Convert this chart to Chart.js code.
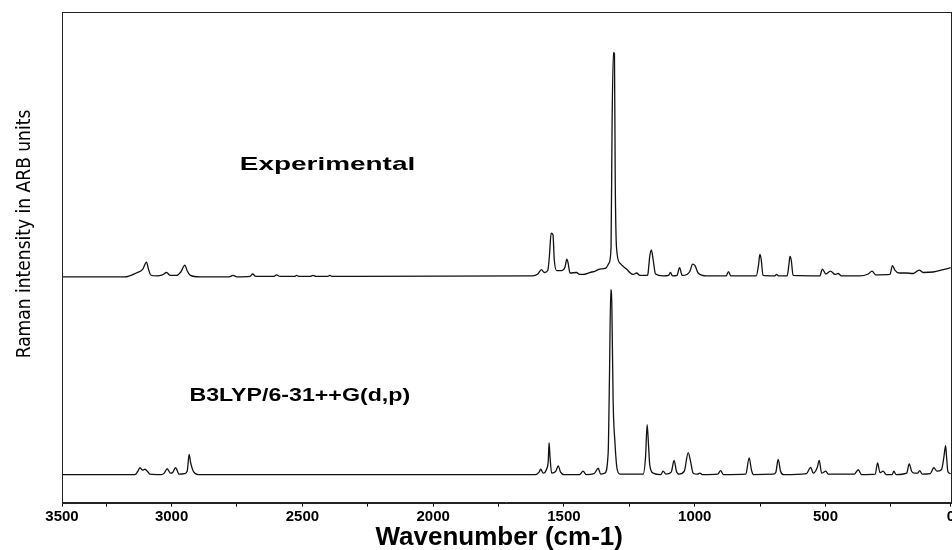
<!DOCTYPE html>
<html>
<head>
<meta charset="utf-8">
<script src="https://cdn.jsdelivr.net/npm/chart.js@4.4.0/dist/chart.umd.min.js"></script>
<style>
  html, body { margin: 0; padding: 0; background: #fff; overflow: hidden; }
  #wrap { width: 956px; height: 550px; }
</style>
</head>
<body>
<div id="wrap"><canvas id="myChart" width="956" height="550"></canvas></div>
<script>
// x range of the frame and its tick marks (wavenumber, cm-1)
var xMin = 21, xMax = 3419;
var tickValues = [3419, 3250, 3000, 2750, 2500, 2250, 2000, 1750, 1500, 1250, 1000, 750, 500, 250, 21];
var tickLabels = ['3500', '', '3000', '', '2500', '', '2000', '', '1500', '', '1000', '', '500', '', '0'];

// Experimental Raman spectrum (offset upward)
var expWavenumber = [3419, 3180, 3135, 3110, 3096, 3088, 3080, 3057, 3035, 3019, 3005, 2981, 2965, 2949, 2940, 2928,
  2892, 2780, 2765, 2750, 2700, 2690, 2678, 2610, 2599, 2585, 2530, 2522, 2512, 2470, 2459, 2448, 2405, 2395, 2385, 2300,
  1620, 1600, 1586, 1575, 1562, 1556, 1549, 1542, 1537, 1528, 1509, 1496, 1489, 1484, 1477, 1452, 1440, 1427, 1401, 1380,
  1363, 1340, 1328, 1320, 1316, 1311, 1307, 1304, 1299, 1286, 1261, 1236, 1222, 1210, 1185, 1180, 1172, 1166, 1159, 1150,
  1121, 1100, 1093, 1085, 1068, 1058, 1048, 1030, 1019, 1008, 999, 987, 955, 880, 871, 862, 765, 756, 751, 746, 739,
  695, 687, 680, 647, 640, 636, 631, 624, 522, 512, 499, 481, 464, 452, 439, 369, 337, 322, 308, 254, 244, 235, 219,
  193, 165, 142, 127, 89, 50, 21];
var expIntensity = [46.0, 46.0, 46.8, 47.6, 49.0, 47.5, 46.4, 46.2, 46.4, 46.9, 46.3, 46.3, 47.0, 48.4, 47.2, 46.3,
  46.0, 46.0, 46.3, 46.0, 46.1, 46.6, 46.1, 46.1, 46.4, 46.1, 46.1, 46.3, 46.1, 46.1, 46.3, 46.1, 46.1, 46.3, 46.1, 46.1,
  46.2, 46.6, 47.5, 46.9, 47.3, 50.0, 54.9, 54.6, 49.5, 47.3, 47.3, 48.0, 49.6, 48.8, 46.8, 46.9, 46.5, 46.5, 46.9, 47.2,
  47.6, 47.8, 48.8, 52.0, 77.3, 91.7, 91.5, 65.8, 51.9, 48.8, 47.6, 46.5, 46.8, 46.3, 46.3, 46.4, 50.2, 51.5, 49.5, 46.6,
  46.2, 46.3, 46.9, 46.2, 46.3, 47.9, 46.3, 46.5, 47.1, 48.6, 48.3, 46.8, 46.2, 46.2, 47.1, 46.2, 46.2, 48.5, 50.6, 49.6, 46.3,
  46.2, 46.5, 46.2, 46.2, 48.5, 50.2, 49.4, 46.3, 46.2, 47.6, 46.6, 47.2, 46.5, 46.7, 46.2, 46.2, 46.6, 47.2, 46.4, 46.5, 48.3, 47.4, 46.8,
  46.8, 46.7, 47.4, 46.9, 47.0, 47.5, 47.9];

// B3LYP/6-31++G(d,p) calculated spectrum
var calcWavenumber = [3419, 3140, 3130, 3121, 3111, 3102, 3093, 3083, 3040, 3028, 3017, 3004, 2995, 2985, 2971, 2950,
  2940, 2933, 2927, 2917, 2898, 1610, 1595, 1589, 1579, 1566, 1560, 1557, 1553, 1547, 1531, 1522, 1513, 1500, 1440, 1427,
  1415, 1385, 1369, 1360, 1344, 1331, 1326, 1321, 1317, 1312, 1305, 1297, 1286, 1197, 1188, 1182, 1177, 1172, 1159, 1130,
  1121, 1110, 1090, 1079, 1070, 1060, 1040, 1025, 1016, 1006, 990, 980, 970, 912, 901, 890, 805, 792, 783, 775, 700, 690,
  681, 672, 660, 573, 557, 547, 532, 524, 515, 499, 490, 390, 375, 362, 310, 301, 292, 280, 268, 245, 239, 230, 190, 180,
  171, 160, 148, 140, 130, 100, 86, 74, 57, 48, 41, 38, 32, 21];
var calcIntensity = [5.7, 5.7, 6.3, 7.1, 6.6, 6.8, 6.4, 5.8, 5.7, 6.0, 6.9, 6.0, 6.2, 7.1, 5.8, 5.9,
  6.5, 9.8, 8.1, 6.4, 5.7, 5.7, 6.2, 6.8, 6.0, 6.9, 8.5, 12.2, 9.1, 6.0, 6.4, 7.5, 6.2, 5.7, 5.7, 6.4,
  5.7, 5.9, 7.0, 5.8, 6.0, 10.1, 25.7, 43.4, 40.3, 20.6, 12.2, 6.9, 5.8, 5.8, 9.4, 15.9, 12.0, 7.7, 6.0, 5.7,
  6.4, 5.8, 6.2, 8.6, 6.4, 5.8, 6.4, 10.2, 8.4, 6.0, 5.8, 6.0, 5.7, 5.8, 6.5, 5.7, 5.8, 9.1, 6.6, 5.7, 5.8, 6.2,
  8.8, 6.4, 5.7, 5.9, 7.2, 6.0, 7.1, 8.6, 6.0, 6.4, 5.8, 5.8, 6.7, 5.7, 5.8, 8.1, 6.1, 6.4, 5.7, 5.7, 6.4, 5.7, 6.0, 7.9,
  6.4, 6.0, 6.0, 6.5, 5.8, 5.9, 7.1, 6.4, 6.7, 9.1, 11.6, 9.8, 6.3, 5.9];

// spectrum labels, placed in data coordinates
var noteTexts = ['Experimental', 'B3LYP/6-31++G(d,p)'];
var noteX = [2404, 2510];
var noteY = [68.8, 21.8];
var yTitle = 'Raman intensity in ARB units';

function toPoints(xs, ys) {
    return xs.map(function (v, i) { return { x: v, y: ys[i] }; });
}

// frame on all four sides, spectrum labels and the y title (the source figure is stretched sideways)
var noteStretch = [1.47, 1.22];
var framePlugin = {
    id: 'frame',
    afterDatasetsDraw: function (chart) {
        var ctx = chart.ctx, a = chart.chartArea;
        var x = chart.scales.x, y = chart.scales.y;
        ctx.save();
        ctx.fillStyle = '#000';
        ctx.font = 'bold 19px "Liberation Sans", Arial, sans-serif';
        ctx.textAlign = 'center';
        ctx.textBaseline = 'middle';
        noteTexts.forEach(function (t, i) {
            ctx.save();
            ctx.translate(x.getPixelForValue(noteX[i]), y.getPixelForValue(noteY[i]));
            ctx.scale(noteStretch[i], 1);
            ctx.fillText(t, 0, 0);
            ctx.restore();
        });

        // y title, a bit above the middle of the frame as in the source
        ctx.save();
        ctx.translate(a.left - 37, a.top + 222);
        ctx.rotate(-Math.PI / 2);
        ctx.font = '19px "Liberation Sans Narrow", "DejaVu Sans Condensed", Arial, sans-serif';
        ctx.fillText(yTitle, 0, 0);
        ctx.restore();

        ctx.strokeStyle = '#222';
        ctx.lineWidth = 1;
        ctx.strokeRect(Math.round(a.left) + 0.5, Math.round(a.top) + 0.5,
            Math.round(a.right - a.left), Math.round(a.bottom - a.top));
        ctx.restore();
    }
};

var ctx = document.getElementById("myChart").getContext("2d");

var chart = new Chart(ctx, {
    type: 'line',
    data: {
        datasets: [
            {
                label: 'Experimental',
                data: toPoints(expWavenumber, expIntensity),
                borderColor: '#111',
                borderWidth: 1.3,
                pointRadius: 0,
                cubicInterpolationMode: 'monotone'
            },
            {
                label: 'B3LYP/6-31++G(d,p)',
                data: toPoints(calcWavenumber, calcIntensity),
                borderColor: '#111',
                borderWidth: 1.3,
                pointRadius: 0,
                cubicInterpolationMode: 'monotone'
            }
        ]
    },
    options: {
        responsive: false,
        animation: false,
        layout: { padding: { top: 12, left: 54, right: 0, bottom: 0 } },
        plugins: { legend: { display: false }, tooltip: { enabled: false } },
        scales: {
            x: {
                type: 'linear',
                reverse: true,
                min: xMin,
                max: xMax,
                afterBuildTicks: function (axis) {
                    axis.ticks = tickValues.map(function (v) { return { value: v }; });
                },
                ticks: {
                    autoSkip: false,
                    maxRotation: 0,
                    padding: 1,
                    color: '#000',
                    font: { family: '"Liberation Sans", Arial, sans-serif', size: 15, weight: 'bold', lineHeight: 1.2 },
                    callback: function (v, i) { return tickLabels[i]; }
                },
                grid: { drawOnChartArea: false, tickLength: 4, color: '#000' },
                border: { color: '#222' },
                title: {
                    display: true,
                    text: 'Wavenumber (cm-1)  ',
                    color: '#000',
                    padding: { top: 0, bottom: 0 },
                    font: { family: '"Liberation Sans", Arial, sans-serif', size: 26, weight: 'bold', lineHeight: 0.9 }
                }
            },
            y: {
                min: 0,
                max: 100,
                ticks: { display: false },
                grid: { display: false },
                border: { color: '#222' }
            }
        }
    },
    plugins: [framePlugin]
});
</script>
</body>
</html>
